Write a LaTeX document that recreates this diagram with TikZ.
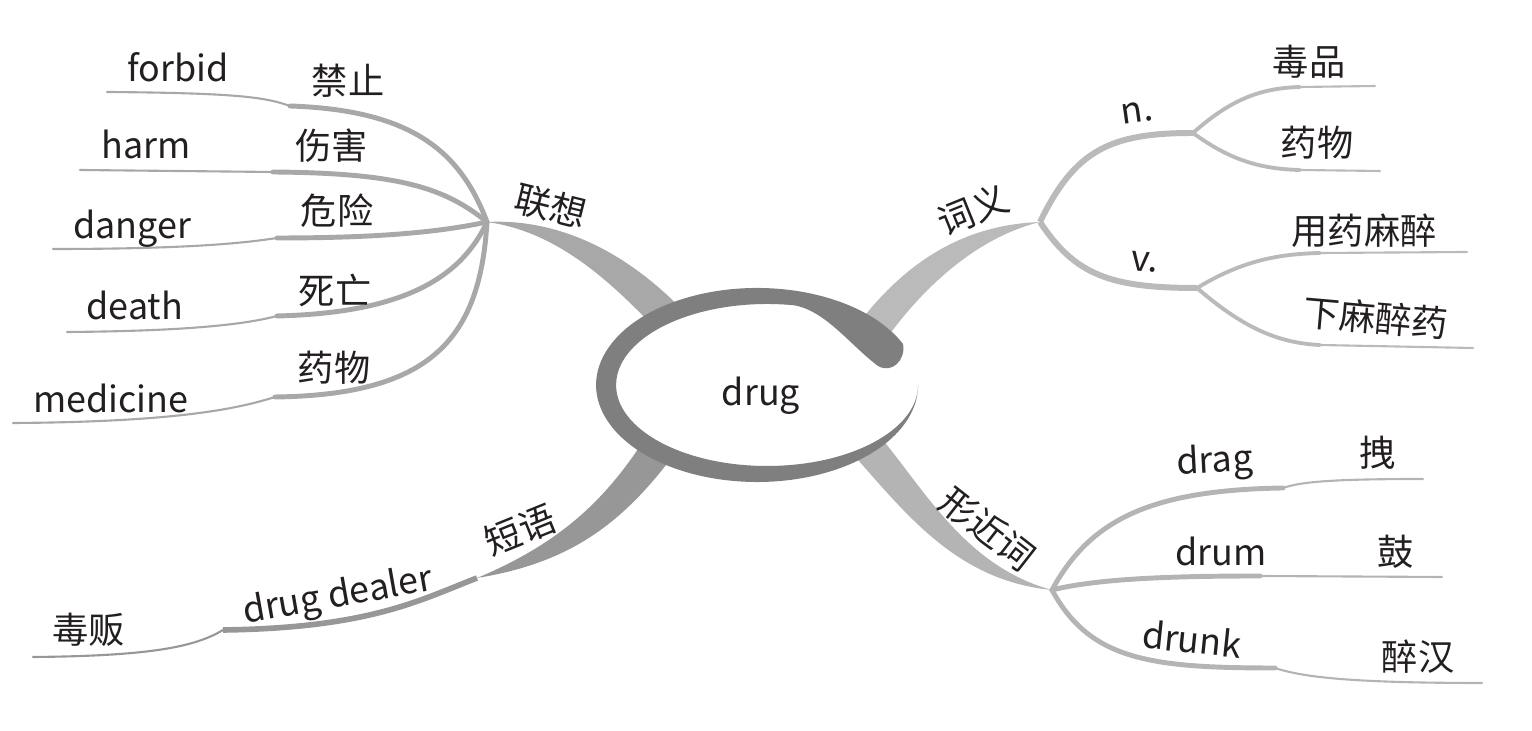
\documentclass[tikz,border=0pt]{standalone}
\usepackage{fontspec}
\setmainfont{Noto Sans CJK SC}
\usetikzlibrary{shapes.geometric}

\definecolor{ringgray}{HTML}{7F7F7F}
\definecolor{lxgray}{HTML}{A8A8A8}
\definecolor{dygray}{HTML}{979797}
\definecolor{cygray}{HTML}{BABABA}
\definecolor{xjgray}{HTML}{B4B4B4}
\definecolor{inkgray}{HTML}{231F20}

\tikzset{
  en/.style={font=\fontsize{10.2}{12}\selectfont, text=inkgray, inner sep=0pt},
  zh/.style={font=\fontsize{10.3}{12}\selectfont, text=inkgray, inner sep=0pt},
  leaf/.style={line width=1.4pt, line cap=round},
  twig/.style={line width=0.6pt, line cap=round},
  core/.style={ellipse, fill=white, inner sep=0pt, minimum width=3.06cm, minimum height=1.66cm},
}

\begin{document}
\begin{tikzpicture}[x=0.01cm, y=-0.01cm]
 \useasboundingbox (0,0) rectangle (1532,731);

 % hubs
 \coordinate (lxHub) at (487,222);
 \coordinate (cyHub) at (1040,222);
 \coordinate (nHub) at (1193,133);
 \coordinate (vHub) at (1197,288);
 \coordinate (xjHub) at (1052,590);
 \coordinate (dyHub) at (477,578);

 % main branches, tapered, ends hidden under the core
 \coordinate (lxInA) at (690,318); \coordinate (lxInB) at (668,342);
 \fill[lxgray] (lxHub) .. controls (565,218) and (635,258) .. (lxInA) -- (lxInB) .. controls (615,285) and (560,232) .. (lxHub) -- cycle;
 \coordinate (cyInA) at (850,335); \coordinate (cyInB) at (882,345);
 \fill[cygray] (cyInA) .. controls (900,265) and (960,225) .. (cyHub) .. controls (975,238) and (920,290) .. (cyInB) -- cycle;
 \coordinate (xjInA) at (840,440); \coordinate (xjInB) at (870,425);
 \fill[xjgray] (xjInB) .. controls (920,480) and (960,565) .. (xjHub) .. controls (950,580) and (900,505) .. (xjInA) -- cycle;
 \coordinate (dyInA) at (660,415); \coordinate (dyInB) at (690,432);
 \fill[dygray] (dyInA) .. controls (620,480) and (580,535) .. (dyHub) .. controls (575,562) and (630,520) .. (dyInB) -- cycle;

 % 联想 leaves
 \coordinate (forbidK) at (290,106); \coordinate (forbidE) at (107,92);
 \coordinate (harmK) at (273,172); \coordinate (harmE) at (80,170);
 \coordinate (dangerK) at (277,238); \coordinate (dangerE) at (53,249);
 \coordinate (deathK) at (277,316); \coordinate (deathE) at (67,332);
 \coordinate (mediK) at (275,397); \coordinate (mediE) at (13,423);
 \draw[lxgray,leaf] (lxHub) .. controls (460,150) and (410,110) .. (forbidK);
 \draw[lxgray,twig] (forbidK) .. controls (265,97) and (235,93) .. (forbidE);
 \draw[lxgray,leaf] (lxHub) .. controls (445,188) and (400,173) .. (harmK);
 \draw[lxgray,twig] (harmK) -- (harmE);
 \draw[lxgray,leaf] (lxHub) .. controls (440,232) and (380,238) .. (dangerK);
 \draw[lxgray,twig] (dangerK) .. controls (250,242) and (200,249) .. (dangerE);
 \draw[lxgray,leaf] (lxHub) .. controls (460,280) and (400,313) .. (deathK);
 \draw[lxgray,twig] (deathK) .. controls (250,323) and (200,331) .. (deathE);
 \draw[lxgray,leaf] (lxHub) .. controls (480,340) and (430,395) .. (mediK);
 \draw[lxgray,twig] (mediK) .. controls (240,408) and (180,422) .. (mediE);

 % 词义 leaves
 \coordinate (dupinK) at (1300,87); \coordinate (dupinE) at (1375,86);
 \coordinate (yaowuK) at (1300,170); \coordinate (yaowuE) at (1380,171);
 \coordinate (yongK) at (1320,253); \coordinate (yongE) at (1467,252);
 \coordinate (xiaK) at (1320,345); \coordinate (xiaE) at (1473,348);
 \draw[cygray,line width=1.7pt] (cyHub) .. controls (1075,150) and (1110,133) .. (nHub);
 \draw[cygray,line width=1.7pt] (cyHub) .. controls (1075,275) and (1110,288) .. (vHub);
 \draw[cygray,leaf,line width=1.1pt] (nHub) .. controls (1230,100) and (1260,88) .. (dupinK);
 \draw[cygray,twig] (dupinK) -- (dupinE);
 \draw[cygray,leaf,line width=1.1pt] (nHub) .. controls (1230,160) and (1260,169) .. (yaowuK);
 \draw[cygray,twig] (yaowuK) -- (yaowuE);
 \draw[cygray,leaf,line width=1.1pt] (vHub) .. controls (1240,262) and (1275,254) .. (yongK);
 \draw[cygray,twig] (yongK) -- (yongE);
 \draw[cygray,leaf,line width=1.1pt] (vHub) .. controls (1240,325) and (1275,343) .. (xiaK);
 \draw[cygray,twig] (xiaK) -- (xiaE);

 % 形近词 leaves
 \coordinate (dragK) at (1283,488); \coordinate (dragE) at (1423,479);
 \coordinate (drumK) at (1260,576); \coordinate (drumE) at (1442,577);
 \coordinate (drunkK) at (1275,668); \coordinate (drunkE) at (1482,683);
 \draw[xjgray,leaf] (xjHub) .. controls (1090,520) and (1150,490) .. (dragK);
 \draw[xjgray,twig] (dragK) .. controls (1300,482) and (1330,479) .. (dragE);
 \draw[xjgray,leaf] (xjHub) .. controls (1100,578) and (1180,576) .. (drumK);
 \draw[xjgray,twig] (drumK) -- (drumE);
 \draw[xjgray,leaf] (xjHub) .. controls (1090,660) and (1150,668) .. (drunkK);
 \draw[xjgray,twig] (drunkK) .. controls (1300,676) and (1340,683) .. (drunkE);

 % 短语 leaf
 \coordinate (dealK) at (223,630); \coordinate (dealE) at (33,657);
 \draw[dygray,line width=1.6pt] (dyHub) .. controls (420,600) and (370,628) .. (dealK);
 \draw[dygray,twig] (dealK) .. controls (195,647) and (150,656) .. (dealE);

 % centre
 \node[core] (core) at (767,385) {};
 \fill[ringgray] (903,344) arc[start angle=-25, end angle=-360, x radius=161, y radius=97]
   arc[start angle=-360, end angle=-80, x radius=151, y radius=81]
   .. controls (825,310) and (850,345) .. (878,366)
   .. controls (892,374) and (906,360) .. (903,344) -- cycle;
 \node[en] (drug) at (761,396) {drug};

 % labels
 \node[zh,rotate=-14] (lianxiang) at (551,206) {联想};
 \node[zh,rotate=22] (ciyi) at (973,210) {词义};
 \node[zh,rotate=-38] (xingjinci) at (988,529) {形近词};
 \node[zh,rotate=22] (duanyu) at (520,530) {短语};

 \node[en] (forbid) at (178,67) {forbid};
 \node[zh] (jinzhi) at (348,81) {禁止};
 \node[en] (harm) at (146,144) {harm};
 \node[zh] (shanghai) at (332,146) {伤害};
 \node[en] (danger) at (132,229) {danger};
 \node[zh] (weixian) at (337,211) {危险};
 \node[en] (death) at (135,305) {death};
 \node[zh] (siwang) at (335,290) {死亡};
 \node[en] (medicine) at (111,398) {medicine};
 \node[zh] (yaowuL) at (334,368) {药物};

 \node[en,rotate=8] (n) at (1137,113) {n.};
 \node[zh] (dupin) at (1309,62) {毒品};
 \node[zh] (yaowu) at (1317,143) {药物};
 \node[en,rotate=-5] (v) at (1145,262) {v.};
 \node[zh] (yongyao) at (1364,231) {用药麻醉};
 \node[zh,rotate=-5] (xiamazui) at (1376,318) {下麻醉药};

 \node[en,rotate=3] (drag) at (1215,463) {drag};
 \node[zh] (zhuai) at (1378,453) {拽};
 \node[en] (drum) at (1221,551) {drum};
 \node[zh] (gu) at (1396,552) {鼓};
 \node[en,rotate=-6] (drunk) at (1192,639) {drunk};
 \node[zh] (zuihan) at (1418,657) {醉汉};

 \node[en,rotate=10] (drugdealer) at (338,597) {drug dealer};
 \node[zh] (dufan) at (89,630) {毒贩};
\end{tikzpicture}
\end{document}
